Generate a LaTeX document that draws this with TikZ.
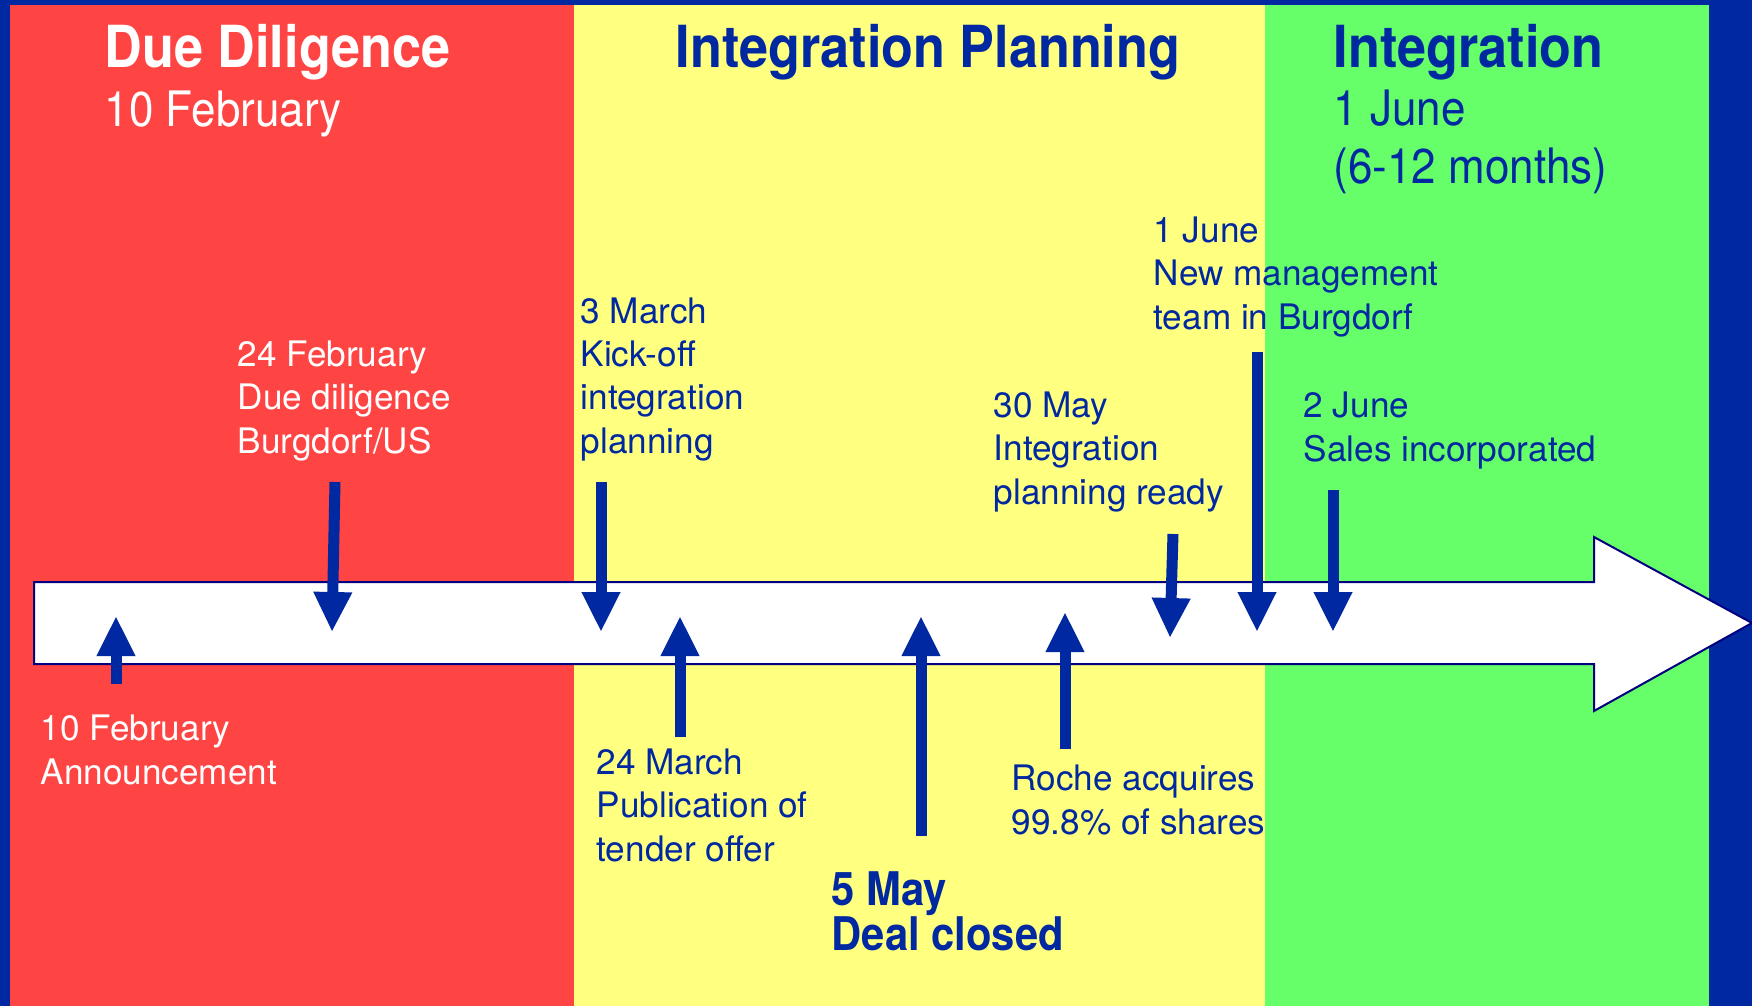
\documentclass[tikz,border=0pt]{standalone}
\usepackage{fontspec}
\setmainfont{TeX Gyre Heros}
\newfontfamily\headfont[FakeStretch=0.9]{TeX Gyre Heros}
\usepackage{tikz}
\usetikzlibrary{arrows.meta}
\definecolor{ddred}{RGB}{255,68,68}
\definecolor{ipyellow}{RGB}{255,255,128}
\definecolor{intgreen}{RGB}{102,255,106}
\definecolor{rocheblue}{RGB}{0,40,160}
\definecolor{barline}{RGB}{0,0,128}

\begin{document}
\begin{tikzpicture}[x=0.1mm, y=-0.1mm,
  evt/.style={-{Triangle[length=4mm,width=3.6mm]}, line width=1.1mm, draw=rocheblue},
  lbl/.style={anchor=base west, inner sep=0pt, align=left, text=rocheblue, font=\fontsize{10}{12.3}\selectfont},
  phasetitle/.style={anchor=base west, inner sep=0pt, text=rocheblue, font=\headfont\bfseries\fontsize{16.5}{19}\selectfont},
  phasedate/.style={anchor=base west, inner sep=0pt, align=left, text=rocheblue, font=\headfont\fontsize{13.9}{16.5}\selectfont}]
\useasboundingbox (0,0) rectangle (1752,1006);
\fill[rocheblue] (0,0) rectangle (1752,1006);
\fill[ddred] (10,5) rectangle (574,1006);
\fill[ipyellow] (574,5) rectangle (1265,1006);
\fill[intgreen] (1265,5) rectangle (1709,1006);

\node[phasetitle, text=white] (dd) at (104,67) {Due Diligence};
\node[phasedate, text=white] (ddDate) at ([yshift=-5.9mm] dd.base west) {10 February};
\node[phasetitle] (ip) at (675,67) {Integration Planning};
\node[phasetitle] (int) at (1333,67) {Integration};
\node[phasedate] (intDate) at ([yshift=-11.65mm] int.base west) {1 June\\(6-12 months)};

\draw[fill=white, draw=barline, line width=0.2mm] (34,582) -- (1594,582) -- (1594,537) -- (1752,623) -- (1594,711) -- (1594,664) -- (34,664) -- cycle;

\node[lbl, text=white] (feb10) at (40,784) {10 February\\Announcement};
\node[lbl, text=white] (feb24) at (237,453) {24 February\\Due diligence\\Burgdorf/US};
\node[lbl] (mar3) at (580,453) {3 March\\Kick-off\\integration\\planning};
\node[lbl] (mar24) at (596,861) {24 March\\Publication of\\tender offer};
\node[lbl, font=\headfont\bfseries\fontsize{13.2}{12.8}\selectfont] (may5) at (831,950) {5 May\\Deal closed};
\node[lbl] (may30) at (993,504) {30 May\\Integration\\planning ready};
\node[lbl] (roche) at (1011,834) {Roche acquires\\99.8\% of shares};
\node[lbl] (jun1) at (1153,329) {1 June\\New management\\team in Burgdorf};
\node[lbl] (jun2) at (1303,461) {2 June\\Sales incorporated};

\coordinate (feb10s) at (116,684);  \coordinate (feb10e) at (116,616);
\coordinate (feb24s) at (335,482);  \coordinate (feb24e) at (332,632);
\coordinate (mar3s) at (601,482);   \coordinate (mar3e) at (601,632);
\coordinate (mar24s) at (680,737);  \coordinate (mar24e) at (680,616);
\coordinate (may5s) at (921,836);   \coordinate (may5e) at (921,616);
\coordinate (roches) at (1065,749); \coordinate (rochee) at (1065,612);
\coordinate (may30s) at (1173,534); \coordinate (may30e) at (1170,638);
\coordinate (jun1s) at (1257,352);  \coordinate (jun1e) at (1257,632);
\coordinate (jun2s) at (1333,490);  \coordinate (jun2e) at (1333,632);

\draw[evt] (feb10s) -- (feb10e);
\draw[evt] (feb24s) -- (feb24e);
\draw[evt] (mar3s) -- (mar3e);
\draw[evt] (mar24s) -- (mar24e);
\draw[evt] (may5s) -- (may5e);
\draw[evt] (roches) -- (rochee);
\draw[evt] (may30s) -- (may30e);
\draw[evt] (jun1s) -- (jun1e);
\draw[evt] (jun2s) -- (jun2e);
\end{tikzpicture}
\end{document}
